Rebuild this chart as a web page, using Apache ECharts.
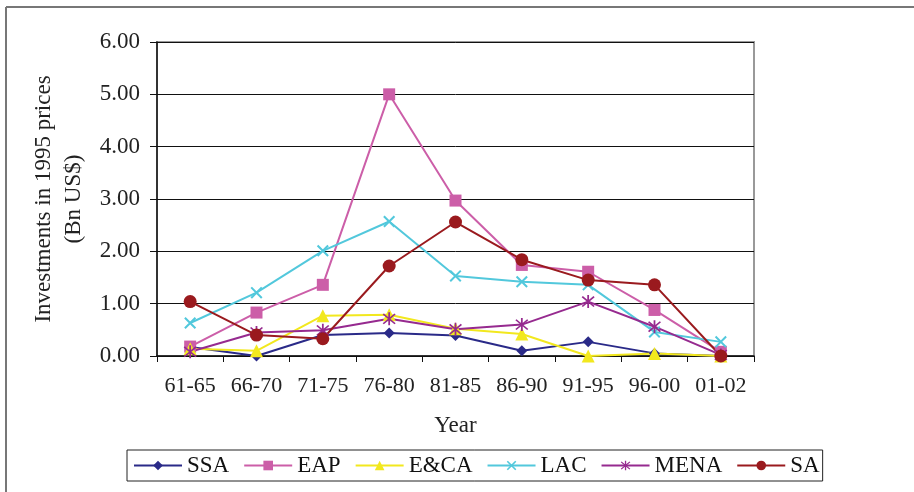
<!DOCTYPE html>
<html>
<head>
<meta charset="utf-8">
<script src="https://cdn.jsdelivr.net/npm/echarts@6/dist/echarts.min.js"></script>
<style>html,body{margin:0;padding:0;background:#fff}#c{width:914px;height:492px}</style>
</head>
<body>
<div id="c"></div>
<script>
const categories = ['61-65','66-70','71-75','76-80','81-85','86-90','91-95','96-00','01-02'];
const yTicks = [0,1,2,3,4,5,6];
const SSA  = [0.17, 0.00, 0.40, 0.44, 0.39, 0.10, 0.27, 0.05, 0.00];
const EAP  = [0.18, 0.83, 1.36, 5.00, 2.97, 1.74, 1.61, 0.88, 0.08];
const ECA  = [0.14, 0.10, 0.77, 0.79, 0.52, 0.42, 0.00, 0.05, 0.00];
const LAC  = [0.63, 1.21, 2.01, 2.57, 1.53, 1.42, 1.36, 0.46, 0.27];
const MENA = [0.08, 0.45, 0.49, 0.71, 0.51, 0.60, 1.04, 0.56, 0.02];
const SA   = [1.04, 0.40, 0.33, 1.72, 2.56, 1.84, 1.45, 1.36, 0.00];

const FONT = '"Liberation Serif", "DejaVu Serif", serif';
const xPath = 'path://M0,1.2L1.2,0L10,8.8L8.8,10Z M8.8,0L10,1.2L1.2,10L0,8.8Z';
const starPath = 'path://M4.4,0L5.6,0L5.6,10L4.4,10Z M0.6,1.6L1.4,0.8L9.4,8.4L8.6,9.2Z M8.6,0.8L9.4,1.6L1.4,9.2L0.6,8.4Z';

function mk(name, data, color, symbol, size) {
  return {
    name, type: 'line', data, symbol, symbolSize: size,
    lineStyle: { color, width: 2 },
    itemStyle: { color, borderWidth: 0 },
    emphasis: { disabled: true },
    animation: false
  };
}

const chart = echarts.init(document.getElementById('c'), null, { renderer: 'canvas' });
chart.setOption({
  backgroundColor: '#fff',
  animation: false,
  textStyle: { fontFamily: FONT },
  graphic: [
    { type: 'line', shape: { x1: 6, y1: 7, x2: 6, y2: 492 }, style: { stroke: '#777', lineWidth: 2 } },
    { type: 'line', shape: { x1: 6, y1: 7, x2: 914, y2: 7 }, style: { stroke: '#777', lineWidth: 2 } }
  ],
  grid: { left: 157, right: 160, top: 42, bottom: 136, show: true, borderColor: '#999', borderWidth: 2, backgroundColor: 'transparent' },
  legend: {
    left: 127, top: 450,
    padding: [4, 3, 4, 6],
    itemGap: 14, itemWidth: 48, itemHeight: 12,
    borderColor: '#222', borderWidth: 1,
    textStyle: { fontFamily: FONT, fontSize: 23, color: '#111' },
    data: ['SSA','EAP','E&CA','LAC','MENA','SA']
  },
  xAxis: {
    type: 'category', data: categories, boundaryGap: true,
    name: 'Year', nameLocation: 'middle', nameGap: 58,
    nameTextStyle: { fontFamily: FONT, fontSize: 23, color: '#222' },
    axisLine: { lineStyle: { color: '#111', width: 1.5 } },
    axisTick: { show: true, length: 6, lineStyle: { color: '#111' } },
    axisLabel: { fontFamily: FONT, fontSize: 22, color: '#222', margin: 19, interval: 0, hideOverlap: false },
    splitLine: { show: false }
  },
  yAxis: {
    type: 'value', min: 0, max: 6, interval: 1,
    name: 'Investments in 1995 prices\n(Bn US$)', nameLocation: 'middle', nameGap: 65, nameRotate: 90,
    nameTextStyle: { fontFamily: FONT, fontSize: 23, color: '#222', lineHeight: 30 },
    axisLine: { show: true, lineStyle: { color: '#111', width: 1.5 } },
    axisTick: { show: true, length: 7, lineStyle: { color: '#111' } },
    axisLabel: { fontFamily: FONT, fontSize: 23, color: '#222', margin: 17, formatter: v => v.toFixed(2) },
    splitLine: { show: true, lineStyle: { color: '#111', width: 1 } }
  },
  series: [
    mk('SSA', SSA, '#2a2a88', 'diamond', 11),
    mk('EAP', EAP, '#cc5ea8', 'rect', 12),
    mk('E&CA', ECA, '#f2e81e', 'triangle', 13),
    mk('LAC', LAC, '#52c8dc', xPath, 12),
    mk('MENA', MENA, '#962a8f', starPath, 13),
    mk('SA', SA, '#9a1a1e', 'circle', 13)
  ]
});
</script>
</body>
</html>
